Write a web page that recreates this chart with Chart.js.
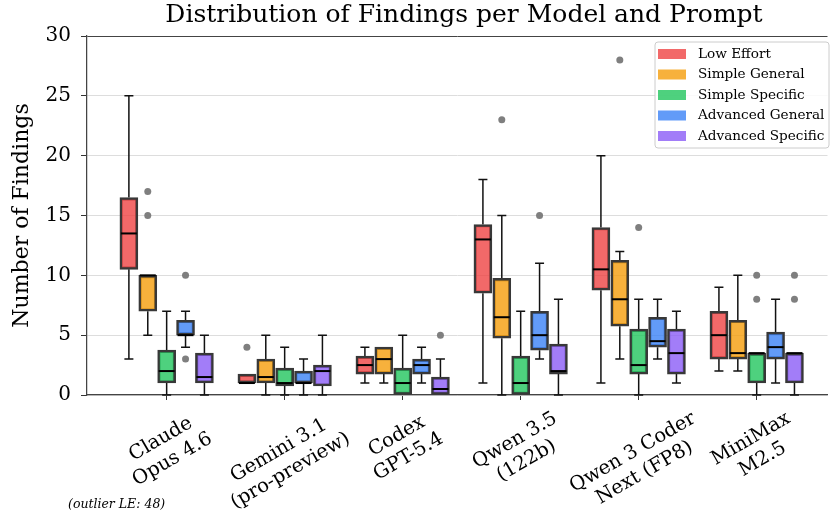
<!DOCTYPE html>
<html>
<head>
<meta charset="utf-8">
<script src="https://cdn.jsdelivr.net/npm/chart.js@4.4.1/dist/chart.umd.min.js"></script>
<style>
  html, body { margin: 0; padding: 0; background: #fff; overflow: hidden; }
  #wrap { width: 831px; height: 521px; position: relative; }
</style>
</head>
<body>
<div id="wrap"><canvas id="findingsChart"></canvas></div>
<script>
// models on the x axis (two-line labels)
const models = [
  ["Claude", "Opus 4.6"],
  ["Gemini 3.1", "(pro-preview)"],
  ["Codex", "GPT-5.4"],
  ["Qwen 3.5", "(122b)"],
  ["Qwen 3 Coder", "Next (FP8)"],
  ["MiniMax", "M2.5"]
];
const prompts = ["Low Effort", "Simple General", "Simple Specific", "Advanced General", "Advanced Specific"];
const colors = ["rgba(239,68,68,0.8)", "rgba(245,158,11,0.8)", "rgba(34,197,94,0.8)", "rgba(59,130,246,0.8)", "rgba(139,92,246,0.8)"];
const yTicks = [0, 5, 10, 15, 20, 25, 30];

// box stats per model: [min, q1, median, q3, max]
const lowEffort = [[3, 10.5, 13.5, 16.5, 25], [1, 1, 1, 1.75, 1.75], [1, 1.75, 2.5, 3.25, 4], [1, 8.5, 13, 14.25, 18], [1, 8.75, 10.5, 14, 20], [2, 3, 5, 7, 9]];
const simpleGeneral = [[5, 7, 10, 10, 10], [0, 1, 1.5, 3, 5], [1, 1.75, 3, 4, 4], [0, 4.75, 6.5, 9.75, 15], [3, 5.75, 8, 11.25, 12], [2, 3, 3.5, 6.25, 10]];
const simpleSpecific = [[0, 1, 2, 3.75, 7], [0, 0.75, 1, 2.25, 4], [0, 0, 1, 2.25, 5], [0, 0, 1, 3.25, 7], [0, 1.75, 2.5, 5.5, 8], [0, 1, 3.5, 3.5, 3.5]];
const advancedGeneral = [[4, 5, 5, 6.25, 7], [0, 1, 1, 2, 3], [1, 1.75, 2.5, 3, 4], [3, 3.75, 5, 7, 11], [3, 4, 4.5, 6.5, 8], [1, 3, 4, 5.25, 8]];
const advancedSpecific = [[0, 1, 1.5, 3.5, 5], [0, 0.75, 2, 2.5, 5], [0, 0, 0.5, 1.5, 3], [0, 1.75, 2, 4.25, 8], [1, 1.75, 3.5, 5.5, 7], [0, 1, 3.5, 3.5, 3.5]];

// outliers per model
const lowEffortOut = [[48], [4], [], [], [], []];
const simpleGeneralOut = [[15, 17], [], [], [23], [28], []];
const simpleSpecificOut = [[], [], [], [], [14], [8, 10]];
const advancedGeneralOut = [[3, 10], [], [], [15], [], []];
const advancedSpecificOut = [[], [], [5], [], [], [8, 10]];

const stats = [lowEffort, simpleGeneral, simpleSpecific, advancedGeneral, advancedSpecific];
const outliers = [lowEffortOut, simpleGeneralOut, simpleSpecificOut, advancedGeneralOut, advancedSpecificOut];
const offsets = [-0.32, -0.16, 0, 0.16, 0.32];

const SERIF = "'DejaVu Serif', serif";

const boxDatasets = prompts.map((p, k) => ({
  label: p,
  type: "bar",
  data: stats[k].map((s, i) => ({ x: i + offsets[k], y: [s[1], s[3]] })),
  backgroundColor: colors[k],
  borderColor: "#383838",
  borderWidth: 2.5,
  borderSkipped: false,
  barThickness: 18,
  grouped: false
}));

const outlierPoints = [];
outliers.forEach((perModel, k) => {
  perModel.forEach((vals, i) => vals.forEach(v => outlierPoints.push({ x: i + offsets[k], y: v })));
});

const whiskerPlugin = {
  id: "whiskers",
  beforeDatasetsDraw(chart) {
    const ctx = chart.ctx, y = chart.scales.y;
    ctx.save();
    ctx.strokeStyle = "#111";
    ctx.lineWidth = 1.5;
    stats.forEach((series, k) => {
      const meta = chart.getDatasetMeta(k);
      series.forEach((s, i) => {
        const x = meta.data[i].x;
        const segs = [[s[3], s[4]], [s[1], s[0]]];
        segs.forEach(([from, to]) => {
          if (from === to) return;
          ctx.beginPath();
          ctx.moveTo(x, y.getPixelForValue(from));
          ctx.lineTo(x, y.getPixelForValue(to));
          ctx.moveTo(x - 4.5, y.getPixelForValue(to));
          ctx.lineTo(x + 4.5, y.getPixelForValue(to));
          ctx.stroke();
        });
      });
    });
    ctx.restore();
  },
  afterDatasetsDraw(chart) {
    const ctx = chart.ctx, y = chart.scales.y;
    ctx.save();
    ctx.strokeStyle = "#000";
    ctx.lineWidth = 2;
    stats.forEach((series, k) => {
      const meta = chart.getDatasetMeta(k);
      series.forEach((s, i) => {
        const bar = meta.data[i];
        const py = y.getPixelForValue(s[2]);
        ctx.beginPath();
        ctx.moveTo(bar.x - bar.width / 2 + 1, py);
        ctx.lineTo(bar.x + bar.width / 2 - 1, py);
        ctx.stroke();
      });
    });
    ctx.restore();
  },
  afterDraw(chart) {
    const ctx = chart.ctx, xs = chart.scales.x;
    const area = chart.chartArea;
    ctx.save();

    // title, centred over the axes
    ctx.fillStyle = "#000";
    ctx.font = "25px " + SERIF;
    ctx.textAlign = "center";
    ctx.textBaseline = "middle";
    ctx.fillText("Distribution of Findings per Model and Prompt", 464, 15);

    // rotated two-line model labels, centred under each tick
    const fs = 19.5, lh = fs * 1.2, ang = Math.PI / 6;
    ctx.font = fs + "px " + SERIF;
    models.forEach((lines, i) => {
      const w = Math.max(...lines.map(l => ctx.measureText(l).width));
      const h = lines.length * lh;
      const bh = w * Math.sin(ang) + h * Math.cos(ang);
      const cx = xs.getPixelForValue(i);
      const cy = area.bottom + 12 + bh / 2;
      ctx.save();
      ctx.translate(cx, cy);
      ctx.rotate(-ang);
      lines.forEach((l, j) => ctx.fillText(l, 0, (j - (lines.length - 1) / 2) * lh));
      ctx.restore();
    });

    ctx.font = "italic 12.5px " + SERIF;
    ctx.textAlign = "left";
    ctx.fillText("(outlier LE: 48)", 68, 505);

    // legend
    const lx = 655, ly = 42, lw = 174, lhh = 106;
    ctx.fillStyle = "rgba(255,255,255,0.85)";
    ctx.strokeStyle = "#cccccc";
    ctx.lineWidth = 1;
    ctx.beginPath();
    ctx.roundRect(lx, ly, lw, lhh, 3);
    ctx.fill();
    ctx.stroke();
    ctx.font = "13.6px " + SERIF;
    prompts.forEach((p, k) => {
      const ry = 54 + k * 20.5;
      ctx.fillStyle = colors[k];
      ctx.fillRect(658, ry - 5, 28, 10);
      ctx.fillStyle = "#000";
      ctx.fillText(p, 698, ry);
    });
    ctx.restore();
  }
};

new Chart(document.getElementById("findingsChart"), {
  type: "bar",
  data: {
    datasets: [
      ...boxDatasets,
      {
        label: "outliers",
        type: "scatter",
        data: outlierPoints,
        backgroundColor: "#7f7f7f",
        borderWidth: 0,
        pointRadius: 3.5,
        pointHoverRadius: 3.5
      }
    ]
  },
  options: {
    responsive: true,
    maintainAspectRatio: false,
    animation: false,
    layout: { padding: { top: 36, left: 0, right: 0, bottom: 0 } },
    plugins: {
      legend: { display: false },
      tooltip: { enabled: false },
      title: { display: false }
    },
    scales: {
      x: {
        type: "linear",
        min: -0.675,
        max: 5.6,
        offset: false,
        afterBuildTicks: s => { s.ticks = models.map((m, i) => ({ value: i })); },
        afterFit: s => { s.height = 126; },
        ticks: { display: false },
        grid: { offset: false, drawOnChartArea: false, drawTicks: true, tickLength: 5, color: "#333" },
        border: { color: "#444", width: 1.25 }
      },
      y: {
        min: 0,
        max: 30,
        afterBuildTicks: s => { s.ticks = yTicks.map(v => ({ value: v })); },
        afterFit: s => { s.width = 87; },
        ticks: { color: "#000", padding: 10, font: { family: SERIF, size: 20 } },
        grid: {
          color: c => (c.tick && c.tick.value === 30 ? "#444" : "#dddddd"),
          tickColor: "#333",
          tickLength: 6
        },
        border: { color: "#444", width: 1.25 },
        title: {
          display: true,
          text: "Number of Findings",
          color: "#000",
          font: { family: SERIF, size: 22 },
          padding: { top: 9, bottom: 0 }
        }
      }
    }
  },
  plugins: [whiskerPlugin]
});
</script>
</body>
</html>
